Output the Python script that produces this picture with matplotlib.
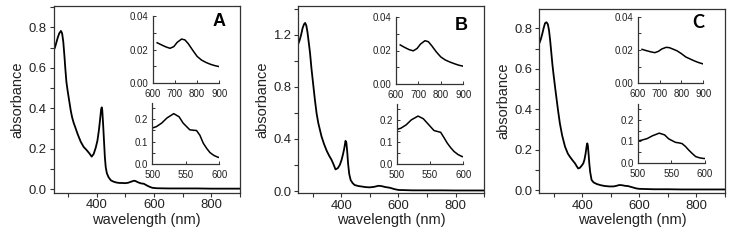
import matplotlib
matplotlib.use("Agg")
import matplotlib.pyplot as plt
from matplotlib.ticker import MultipleLocator, FixedLocator, FormatStrFormatter

plt.rcParams['font.family'] = ['Liberation Sans', 'DejaVu Sans']

# ---------------- data ----------------
# Panel A main spectrum
wl_A = [250, 255, 260, 265, 270, 276, 280, 284, 288, 291, 295, 300, 305, 310, 315, 320, 325, 335, 345, 355,
        365, 375, 383, 390, 397, 403, 408, 412, 416, 418, 420, 423, 426, 429, 432, 436, 442, 450, 460, 470,
        480, 490, 500, 510, 520, 530, 535, 545, 555, 565, 575, 585, 595, 610, 650, 700, 750, 800, 850, 900]
abs_A = [0.685, 0.70, 0.725, 0.75, 0.77, 0.782, 0.77, 0.73, 0.66, 0.60, 0.53, 0.48, 0.435, 0.39, 0.355, 0.33, 0.31, 0.27, 0.235, 0.21,
         0.195, 0.178, 0.162, 0.175, 0.205, 0.24, 0.29, 0.34, 0.395, 0.405, 0.39, 0.32, 0.24, 0.16, 0.11, 0.08, 0.06, 0.045, 0.038, 0.034,
         0.032, 0.032, 0.031, 0.033, 0.038, 0.043, 0.042, 0.035, 0.030, 0.028, 0.020, 0.013, 0.008, 0.006, 0.005, 0.005, 0.005, 0.004, 0.004, 0.004]

# Panel B main spectrum
wl_B = [250, 255, 260, 265, 270, 274, 278, 282, 286, 291, 296, 302, 308, 314, 320, 331, 340, 349, 358, 366,
        374, 380, 388, 395, 401, 406, 410, 415, 418, 421, 424, 428, 433, 440, 447, 460, 470, 485, 500, 515,
        530, 540, 555, 570, 585, 600, 650, 700, 750, 800, 850, 900]
abs_B = [1.13, 1.16, 1.20, 1.25, 1.28, 1.29, 1.27, 1.22, 1.15, 1.06, 0.94, 0.82, 0.70, 0.595, 0.52, 0.42, 0.36, 0.31, 0.27, 0.24,
         0.20, 0.166, 0.175, 0.20, 0.237, 0.28, 0.32, 0.385, 0.37, 0.30, 0.21, 0.13, 0.084, 0.06, 0.046, 0.038, 0.035, 0.030, 0.028, 0.032,
         0.040, 0.038, 0.030, 0.025, 0.015, 0.008, 0.005, 0.005, 0.005, 0.004, 0.004, 0.004]

# Panel C main spectrum
wl_C = [250, 255, 260, 265, 270, 275, 280, 284, 288, 292, 296, 300, 306, 311, 316, 322, 330, 340, 350, 357,
        366, 375, 380, 386, 392, 398, 404, 408, 412, 416, 418, 420, 423, 425, 428, 433, 440, 451, 465, 480,
        495, 510, 520, 530, 540, 550, 560, 570, 580, 590, 600, 650, 700, 750, 800, 850, 900]
abs_C = [0.726, 0.745, 0.77, 0.80, 0.825, 0.83, 0.82, 0.79, 0.74, 0.68, 0.62, 0.57, 0.50, 0.445, 0.39, 0.33, 0.27, 0.215, 0.18, 0.165,
         0.148, 0.132, 0.12, 0.107, 0.11, 0.12, 0.132, 0.15, 0.18, 0.22, 0.231, 0.22, 0.17, 0.132, 0.09, 0.05, 0.038, 0.030, 0.024, 0.020,
         0.018, 0.018, 0.021, 0.025, 0.024, 0.021, 0.020, 0.016, 0.012, 0.008, 0.006, 0.004, 0.004, 0.003, 0.003, 0.003, 0.003]

# Upper insets (600-900 nm)
wl_up = [620, 640, 660, 678, 695, 710, 730, 745, 760, 780, 800, 820, 840, 860, 880, 900]
up_A = [0.0241, 0.0228, 0.0216, 0.0208, 0.0218, 0.0243, 0.0263, 0.0258, 0.0236, 0.0197, 0.0160, 0.0138, 0.0124, 0.0113, 0.0105, 0.0099]
up_B = [0.0233, 0.0218, 0.0205, 0.0198, 0.0212, 0.0238, 0.0258, 0.0252, 0.0228, 0.0192, 0.0162, 0.0144, 0.0132, 0.0122, 0.0113, 0.0107]
up_C = [0.0204, 0.0196, 0.0189, 0.0184, 0.0192, 0.0206, 0.0216, 0.0214, 0.0206, 0.0195, 0.0178, 0.0158, 0.0146, 0.0134, 0.0124, 0.0116]

# Lower insets (500-600 nm)
wl_lo = [500, 506, 514, 522, 532, 540, 546, 556, 562, 566, 571, 576, 581, 586, 592, 598, 600]
lo_A = [0.160, 0.166, 0.182, 0.205, 0.224, 0.210, 0.182, 0.152, 0.150, 0.149, 0.128, 0.093, 0.070, 0.051, 0.038, 0.030, 0.029]
lo_B = [0.157, 0.162, 0.177, 0.200, 0.217, 0.205, 0.185, 0.152, 0.147, 0.144, 0.120, 0.095, 0.075, 0.058, 0.044, 0.035, 0.034]
lo_C = [0.102, 0.106, 0.113, 0.126, 0.138, 0.130, 0.112, 0.096, 0.093, 0.090, 0.077, 0.060, 0.045, 0.031, 0.025, 0.022, 0.022]

panel_letters = ['A', 'B', 'C']

# ---------------- layout ----------------
W, H = 731, 240
fig = plt.figure(figsize=(W / 100, H / 100), dpi=100)
TXT = '#222222'

def rect(l, r, t, b):
    return [l / W, 1 - b / H, (r - l) / W, (b - t) / H]

main_rects = [rect(53.5, 240, 6, 192.5), rect(298.3, 484.3, 6, 192.7), rect(539.3, 725, 9.3, 192.7)]
up_rects = [rect(152.7, 219.3, 16, 83.3), rect(395.7, 463.3, 16.7, 84.3), rect(637.7, 703.3, 16.7, 83.3)]
lo_rects = [rect(152.3, 219.3, 103.3, 164), rect(396.7, 463.3, 104.3, 164.3), rect(637.7, 705, 104.3, 163.3)]
ylims = [(-0.015, 0.905), (-0.013, 1.42), (-0.013, 0.894)]
ymaj = [0.2, 0.4, 0.2]
ymin = [0.1, 0.2, 0.1]
letter_pos = [(219, 22), (461.7, 25), (698, 23)]
letter_font = ['Liberation Sans', 'Liberation Sans', 'Lato']

mains = [(wl_A, abs_A), (wl_B, abs_B), (wl_C, abs_C)]
ups = [up_A, up_B, up_C]
los = [lo_A, lo_B, lo_C]

for i in range(3):
    ax = fig.add_axes(main_rects[i])
    ax.plot(mains[i][0], mains[i][1], color='black', lw=1.3)
    ax.set_xlim(250, 900)
    ax.set_ylim(*ylims[i])
    ax.xaxis.set_major_locator(FixedLocator([400, 600, 800]))
    ax.xaxis.set_minor_locator(FixedLocator([300, 500, 700, 900]))
    ax.yaxis.set_major_locator(MultipleLocator(ymaj[i]))
    ax.yaxis.set_minor_locator(MultipleLocator(ymin[i]))
    ax.yaxis.set_major_formatter(FormatStrFormatter('%.1f'))
    ax.tick_params(which='both', direction='out', length=3, width=0.8, colors='#333333',
                   labelsize=9.4, labelcolor=TXT, pad=2)
    for s in ax.spines.values():
        s.set_color('#333333')
        s.set_linewidth(0.9)
    ax.set_xlabel('wavelength (nm)', fontsize=10.5, color=TXT, labelpad=1)
    ax.set_ylabel('absorbance', fontsize=10.5, color=TXT, labelpad=3)
    lx, ly = letter_pos[i]
    fig.text(lx / W, 1 - ly / H, panel_letters[i], fontsize=13, fontweight='bold',
             ha='center', va='center', family=[letter_font[i], 'DejaVu Sans'])

    # upper inset
    ai = fig.add_axes(up_rects[i])
    ai.plot(wl_up, ups[i], color='black', lw=1.1)
    ai.set_xlim(600, 900)
    ai.set_ylim(0, 0.04)
    ai.xaxis.set_major_locator(FixedLocator([600, 700, 800, 900]))
    ai.yaxis.set_major_locator(FixedLocator([0.0, 0.02, 0.04]))
    ai.yaxis.set_minor_locator(FixedLocator([0.01, 0.03]))
    ai.yaxis.set_major_formatter(FormatStrFormatter('%.2f'))
    # lower inset
    bi = fig.add_axes(lo_rects[i])
    bi.plot(wl_lo, los[i], color='black', lw=1.1)
    bi.set_xlim(500, 600)
    bi.set_ylim(0, 0.27)
    bi.xaxis.set_major_locator(FixedLocator([500, 550, 600]))
    bi.yaxis.set_major_locator(FixedLocator([0.0, 0.1, 0.2]))
    bi.yaxis.set_minor_locator(FixedLocator([0.05, 0.15, 0.25]))
    bi.yaxis.set_major_formatter(FormatStrFormatter('%.1f'))
    for a in (ai, bi):
        a.patch.set_alpha(0)
        a.spines['top'].set_visible(False)
        a.spines['right'].set_visible(False)
        for s in ('left', 'bottom'):
            a.spines[s].set_color('#333333')
            a.spines[s].set_linewidth(0.9)
        a.tick_params(which='both', direction='in', length=2.5, width=0.7, colors='#333333',
                      labelsize=7, labelcolor=TXT)
        a.tick_params(axis='x', pad=4)
        a.tick_params(axis='y', pad=3)

fig.savefig('out.png', dpi=100)
